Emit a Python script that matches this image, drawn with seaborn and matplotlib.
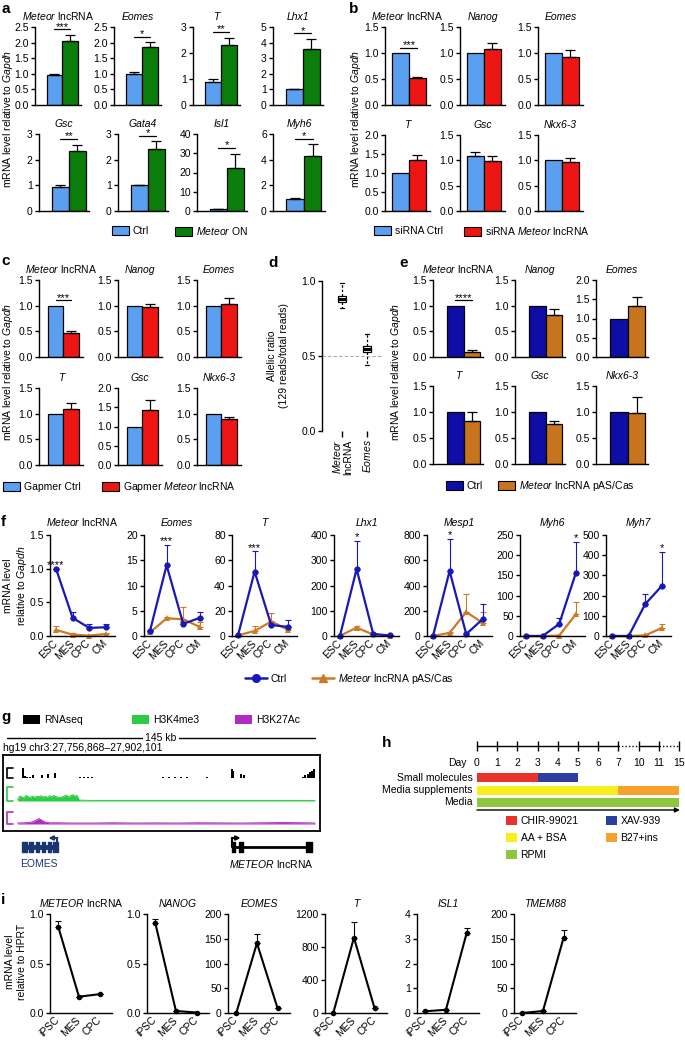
import matplotlib
matplotlib.use("Agg")
import matplotlib.pyplot as plt
from matplotlib.patches import Patch
from matplotlib.lines import Line2D
import numpy as np
import pandas as pd
import seaborn as sns

# ---------------- data ----------------
# a: Ctrl vs Meteor ON
a_genes = ["Meteor lncRNA", "Eomes", "T", "Lhx1", "Gsc", "Gata4", "Isl1", "Myh6"]
a_ctrl = [0.97, 1.00, 0.90, 1.00, 0.93, 1.00, 0.80, 0.97]
a_ctrl_sem = [0.03, 0.07, 0.10, 0.05, 0.07, 0.03, 0.30, 0.07]
a_on = [2.05, 1.85, 2.32, 3.60, 2.32, 2.42, 22.5, 4.30]
a_on_sem = [0.20, 0.17, 0.27, 0.65, 0.27, 0.30, 7.3, 0.90]
a_stars = ["***", "*", "**", "*", "**", "*", "*", "*"]
a_ymax = [2.5, 2.5, 3, 5, 3, 3, 40, 6]
a_ystep = [0.5, 0.5, 1, 1, 1, 1, 10, 2]

# b: siRNA
bce_genes = ["Meteor lncRNA", "Nanog", "Eomes", "T", "Gsc", "Nkx6-3"]
b_ctrl = [1.00, 1.00, 1.00, 1.00, 1.08, 1.00]
b_ctrl_sem = [0, 0, 0, 0, 0.09, 0]
b_kd = [0.52, 1.08, 0.93, 1.35, 0.99, 0.97]
b_kd_sem = [0.02, 0.11, 0.12, 0.13, 0.10, 0.08]
b_stars = ["***", "", "", "", "", ""]
b_ymax = [1.5, 1.5, 1.5, 2.0, 1.5, 1.5]

# c: gapmer
c_ctrl = [1.00, 1.00, 1.00, 1.00, 1.00, 1.00]
c_ctrl_sem = [0, 0, 0, 0, 0, 0]
c_kd = [0.47, 0.97, 1.03, 1.10, 1.42, 0.89]
c_kd_sem = [0.03, 0.06, 0.11, 0.10, 0.28, 0.04]
c_stars = ["***", "", "", "", "", ""]
c_ymax = [1.5, 1.5, 1.5, 1.5, 2.0, 1.5]

# d: allelic ratio
d_meteor = [0.82, 0.85, 0.88, 0.88, 0.91, 0.99]
d_eomes = [0.44, 0.52, 0.545, 0.545, 0.57, 0.65]

# e: pAS/Cas
e_ctrl = [1.00, 1.00, 1.00, 1.00, 1.00, 1.00]
e_ctrl_sem = [0, 0, 0, 0, 0, 0]
e_cas = [0.09, 0.82, 1.32, 0.82, 0.77, 0.99]
e_cas_sem = [0.05, 0.12, 0.23, 0.18, 0.06, 0.30]
e_stars = ["****", "", "", "", "", ""]
e_ymax = [1.5, 1.5, 2.0, 1.5, 1.5, 1.5]

# f: differentiation time course
f_genes = ["Meteor lncRNA", "Eomes", "T", "Lhx1", "Mesp1", "Myh6", "Myh7"]
f_stages = ["ESC", "MES", "CPC", "CM"]
f_ctrl = [[1.0, 0.27, 0.12, 0.13], [1.0, 14.0, 2.4, 3.6], [0.5, 51, 8.7, 7.2],
          [1, 265, 8, 2], [0, 515, 15, 135], [0, 0, 30, 156], [0, 0, 158, 248]]
f_ctrl_sem = [[0, 0.09, 0.06, 0.05], [0.2, 4.1, 0.4, 1.2], [0.3, 16, 1.5, 5.8],
              [0, 112, 2, 1], [0, 255, 5, 118], [0, 0, 15, 77], [0, 0, 50, 168]]
f_cas = [[0.09, 0.02, 0.005, 0.03], [0.7, 3.5, 3.3, 1.8], [0.5, 4, 11.5, 5],
         [1, 33, 6, 1], [0, 25, 190, 103], [0, 0, 1, 54], [0, 0, 3, 40]]
f_cas_sem = [[0.06, 0.02, 0, 0.02], [0.2, 0.3, 2.4, 1.0], [0.3, 4, 7, 2],
             [0, 5, 2, 1], [0, 10, 143, 87], [0, 0, 0, 30], [0, 0, 2, 19]]
f_ymax = [1.5, 20, 80, 400, 800, 250, 500]
f_ystep = [0.5, 5, 20, 100, 200, 50, 100]
f_stars = ["****", "***", "***", "*", "*", "*", "*"]
f_star_stage = ["ESC", "MES", "MES", "MES", "MES", "CM", "CM"]

# g: genome browser tracks (position in kb, signal)
g_rna_kb = [7.4, 8.5, 9.4, 10.8, 12.4, 16.3, 19.4, 22.4, 34.4, 36.3, 38.1, 40.0, 61.1, 65.8,
            73.4, 76.3, 79.1, 81.9, 84.7, 94.0, 105.9, 106.6, 110.2, 111.6,
            139.5, 140.5, 141.5, 142.5, 143.5, 144.5]
g_rna_h = [1.0, 0.2, 0.12, 0.1, 0.35, 0.35, 0.4, 0.55, 0.08, 0.08, 0.08, 0.08, 0.05, 0.05,
           0.08, 0.08, 0.08, 0.08, 0.08, 0.06, 0.9, 0.7, 0.45, 0.3,
           0.15, 0.3, 0.45, 0.6, 0.75, 0.9]
g_k4_kb = [5, 6, 7, 8, 9, 10, 11, 12, 13, 14, 15, 16, 17, 18, 19, 20, 21, 22, 23, 24,
           25, 26, 27, 28, 29, 30, 31, 32, 33, 34, 40, 60, 80, 100, 120, 145]
g_k4_h = [0.1, 0.35, 0.28, 0.22, 0.4, 0.3, 0.26, 0.36, 0.24, 0.33, 0.3, 0.38, 0.27, 0.34,
          0.26, 0.37, 0.3, 0.4, 0.31, 0.27, 0.24, 0.3, 0.36, 0.42, 0.28, 0.38, 0.45, 0.34,
          0.4, 0.06, 0.04, 0.04, 0.04, 0.04, 0.04, 0.04]
g_k27_kb = [5, 8, 10, 12, 13.5, 15, 16.5, 18, 20, 24, 30, 40, 50, 60, 70, 80, 90, 100,
            110, 120, 130, 140, 145]
g_k27_h = [0.08, 0.1, 0.12, 0.18, 0.3, 0.45, 0.3, 0.15, 0.1, 0.1, 0.08, 0.08, 0.1, 0.08,
           0.09, 0.08, 0.1, 0.09, 0.08, 0.1, 0.12, 0.1, 0.08]
g_span_kb = 145
g_eomes_exons = [(6.9, 9.3), (10.5, 12.4), (13.7, 15.2), (16.3, 17.9), (19.2, 20.7), (21.8, 24.2)]
g_meteor_exons = [(105.8, 107.3), (109.4, 111.0), (140.8, 143.5)]

# h: differentiation protocol (days)
h_days = [0, 1, 2, 3, 4, 5, 6, 7, 10, 11, 15]
h_rows = ["Small molecules", "Media supplements", "Media"]
h_blocks = [[("CHIR-99021", 0, 3), ("XAV-939", 3, 5)],
            [("AA + BSA", 0, 7), ("B27+ins", 7, 15)],
            [("RPMI", 0, 15)]]

# i: human iPSC differentiation
i_genes = ["METEOR lncRNA", "NANOG", "EOMES", "T", "ISL1", "TMEM88"]
i_stages = ["iPSC", "MES", "CPC"]
i_vals = [[0.87, 0.165, 0.19], [0.91, 0.02, 0.005], [0, 141, 9.5],
          [0, 913, 57], [0.07, 0.13, 3.22], [0, 4, 152]]
i_sem = [[0.06, 0, 0], [0.035, 0, 0], [0, 18, 0], [0, 186, 0], [0, 0, 0.2], [0, 0, 16]]
i_ymax = [1.0, 1.0, 200, 1200, 4, 200]
i_ystep = [0.5, 0.5, 50, 400, 1, 50]

# ---------------- style ----------------
sns.set_theme(style="ticks", rc={"axes.edgecolor": "black", "text.color": "black",
                                 "xtick.color": "black", "ytick.color": "black",
                                 "axes.labelcolor": "black"})
plt.rcParams["font.family"] = ["Liberation Sans", "DejaVu Sans"]
plt.rcParams["mathtext.fontset"] = "custom"
plt.rcParams["mathtext.rm"] = "Liberation Sans"
plt.rcParams["mathtext.it"] = "Liberation Sans:italic"

LBLUE = "#5a9ff0"
GREEN = "#0a7d0a"
RED = "#ee1515"
NAVY = "#0e0ea6"
BROWN = "#c8741f"
F_BLUE = "#1818b8"
F_ORANGE = "#cc7a26"
G_GREEN = "#2ccc44"
G_PURPLE = "#b02cc0"
G_NAVY = "#1b3570"
H_COLORS = {"CHIR-99021": "#e8322b", "XAV-939": "#2b3f9e", "AA + BSA": "#f7ee1c",
            "B27+ins": "#f6a12b", "RPMI": "#8dc63f"}

W, H = 685, 1040
fig = plt.figure(figsize=(W / 100, H / 100), dpi=100)


def px_ax(l, t, w, h):
    return fig.add_axes([l / W, 1 - (t + h) / H, w / W, h / H])


def fig_text(x, y, s, **kw):
    kw.setdefault("fontsize", 7.5)
    return fig.text(x / W, 1 - y / H, s, **kw)


def letter(x, y, s):
    fig_text(x, y, s, fontsize=11, weight="bold", va="baseline", ha="left")


def ylab(x, y, s):
    fig_text(x, y, s, rotation=90, ha="center", va="center", multialignment="center")


def gene_title(ax, name, pad=5):
    if name.endswith(" lncRNA"):
        ax.set_title("$\\it{%s}$ lncRNA" % name[:-7], fontsize=7.5, pad=pad)
    else:
        ax.set_title(name, fontsize=7.5, pad=pad, style="italic")


def style_y(ax, ymax, step):
    sns.despine(ax=ax)
    for s in ("left", "bottom"):
        ax.spines[s].set_linewidth(1)
        ax.spines[s].set_color("black")
    ax.set_ylim(0, ymax)
    ticks = np.arange(0, ymax + step / 2, step)
    ax.set_yticks(ticks)
    ax.set_yticklabels([f"{t:.1f}" if step < 1 else f"{t:g}" for t in ticks], fontsize=7.5)
    ax.tick_params(axis="y", length=3, width=1, pad=1.5)
    ax.set_xlabel("")
    ax.set_ylabel("")


def bar_panel(ax, vals, sems, colors, ymax, step, star, xlim):
    sns.barplot(x=["ctrl", "test"], y=vals, hue=["ctrl", "test"], palette=colors,
                width=1.0, saturation=1, edgecolor="black", linewidth=0.9,
                errorbar=None, legend=False, ax=ax)
    for i in range(2):
        if sems[i] > 0:
            ax.errorbar(i, vals[i], yerr=[[0], [sems[i]]], fmt="none", ecolor="black",
                        elinewidth=0.9, capsize=3.5, capthick=0.9)
    if star:
        top = max(v + s for v, s in zip(vals, sems))
        yl = top + 0.07 * ymax
        ax.plot([0, 1], [yl, yl], color="black", lw=0.9)
        ax.text(0.5, yl - 0.03 * ymax, star, ha="center", va="bottom", fontsize=8)
    ax.set_xlim(*xlim)
    ax.set_xticks([])
    style_y(ax, ymax, step)


def patch_legend(x, y, color, label, edge="black", hl=1.6, hh=1.05):
    fig.legend(handles=[Patch(facecolor=color, edgecolor=edge, linewidth=0.8)], labels=[label],
               loc="center left", bbox_to_anchor=(x / W, 1 - y / H), frameon=False,
               fontsize=7.5, handlelength=hl, handleheight=hh, handletextpad=0.4,
               borderpad=0, borderaxespad=0)


# ---------------- a ----------------
letter(1, 13, "a")
a_pos = [(35, 27, 46, 78), (114, 27, 47, 78), (193, 27, 47, 78), (273, 27, 50, 78),
         (39, 134, 50, 77), (118, 134, 50, 77), (197, 134, 50, 77), (273, 134, 52, 77)]
for k, pos in enumerate(a_pos):
    ax = px_ax(*pos)
    bar_panel(ax, [a_ctrl[k], a_on[k]], [a_ctrl_sem[k], a_on_sem[k]], [LBLUE, GREEN],
              a_ymax[k], a_ystep[k], a_stars[k], (-1.25, 1.7))
    gene_title(ax, a_genes[k])
ylab(8, 119, "mRNA level relative to $\\it{Gapdh}$")
patch_legend(112, 231, LBLUE, "Ctrl")
patch_legend(175, 231, GREEN, "$\\it{Meteor}$ ON")

# ---------------- b ----------------
letter(349, 13, "b")
b_pos = [(385, 27, 45, 78), (460, 27, 45, 78), (538, 27, 45, 78),
         (385, 135, 45, 76), (460, 135, 45, 76), (538, 135, 45, 76)]
for k, pos in enumerate(b_pos):
    ax = px_ax(*pos)
    bar_panel(ax, [b_ctrl[k], b_kd[k]], [b_ctrl_sem[k], b_kd_sem[k]], [LBLUE, RED],
              b_ymax[k], 0.5, b_stars[k], (-0.91, 1.74))
    gene_title(ax, bce_genes[k])
ylab(356, 119, "mRNA level relative to $\\it{Gapdh}$")
patch_legend(374, 231, LBLUE, "siRNA Ctrl")
patch_legend(464, 231, RED, "siRNA $\\it{Meteor}$ lncRNA")

# ---------------- c ----------------
letter(1, 265, "c")
c_pos = [(39, 280, 44, 77), (118, 280, 44, 77), (197, 280, 44, 77),
         (39, 388, 44, 77), (118, 388, 44, 77), (197, 388, 44, 77)]
for k, pos in enumerate(c_pos):
    ax = px_ax(*pos)
    bar_panel(ax, [c_ctrl[k], c_kd[k]], [c_ctrl_sem[k], c_kd_sem[k]], [LBLUE, RED],
              c_ymax[k], 0.5, c_stars[k], (-1.08, 1.76))
    gene_title(ax, bce_genes[k])
ylab(8, 372, "mRNA level relative to $\\it{Gapdh}$")
patch_legend(3, 487, LBLUE, "Gapmer Ctrl")
patch_legend(102, 487, RED, "Gapmer $\\it{Meteor}$ lncRNA")

# ---------------- d ----------------
letter(268, 267, "d")
ax = px_ax(322, 281, 60, 150)
df_d = pd.DataFrame({"gene": ["Meteor lncRNA"] * len(d_meteor) + ["Eomes"] * len(d_eomes),
                     "ratio": d_meteor + d_eomes})
ax.axhline(0.5, color="#aaaaaa", ls=(0, (3, 2)), lw=0.8, zorder=0)
sns.boxplot(data=df_d, x="gene", y="ratio", whis=(0, 100), width=0.3, color="white",
            linecolor="black", linewidth=0.9, whiskerprops={"linestyle": (0, (2, 1.5))},
            medianprops={"linewidth": 2.2}, ax=ax)
ax.set_xlim(-0.8, 1.6)
style_y(ax, 1.0, 0.5)
ax.spines["bottom"].set_visible(False)
ax.set_xticks([0, 1])
ax.set_xticklabels(["$\\it{Meteor}$\nlncRNA", "$\\it{Eomes}$"], rotation=90,
                   fontsize=7.5, linespacing=1.0, multialignment="right")
ax.tick_params(axis="x", length=4, width=1, pad=2)
ylab(278, 356, "Allelic ratio\n(129 reads/total reads)")

# ---------------- e ----------------
letter(399, 267, "e")
e_pos = [(433, 280, 50, 77), (515, 280, 50, 77), (596, 280, 52, 77),
         (433, 386, 50, 78), (515, 386, 50, 78), (596, 386, 52, 78)]
for k, pos in enumerate(e_pos):
    ax = px_ax(*pos)
    bar_panel(ax, [e_ctrl[k], e_cas[k]], [e_ctrl_sem[k], e_cas_sem[k]], [NAVY, BROWN],
              e_ymax[k], 0.5, e_stars[k], (-1.3, 1.65))
    gene_title(ax, bce_genes[k])
ylab(396, 372, "mRNA level relative to $\\it{Gapdh}$")
patch_legend(446, 486, NAVY, "Ctrl")
patch_legend(498, 486, BROWN, "$\\it{Meteor}$ lncRNA pAS/Cas")

# ---------------- f ----------------
letter(1, 526, "f")
f_left = [50, 144, 232, 334, 427, 520, 606]
for k, left in enumerate(f_left):
    ax = px_ax(left, 535, 65, 101)
    df = pd.DataFrame({"stage": f_stages * 2, "val": f_ctrl[k] + f_cas[k],
                       "group": ["Ctrl"] * 4 + ["pAS"] * 4})
    for vals, sems, col in ((f_cas[k], f_cas_sem[k], F_ORANGE), (f_ctrl[k], f_ctrl_sem[k], F_BLUE)):
        ax.errorbar(f_stages, vals, yerr=[[0] * 4, sems], fmt="none", ecolor=col,
                    elinewidth=0.8, capsize=2.5, capthick=0.8)
    sns.lineplot(data=df, x="stage", y="val", hue="group", style="group",
                 hue_order=["pAS", "Ctrl"], style_order=["pAS", "Ctrl"],
                 markers={"Ctrl": "o", "pAS": "^"}, dashes=False,
                 palette={"Ctrl": F_BLUE, "pAS": F_ORANGE}, linewidth=1.6, markersize=4.5,
                 markeredgewidth=0, legend=False, errorbar=None, ax=ax)
    for ln in ax.lines:
        ln.set_clip_on(False)
    si = f_stages.index(f_star_stage[k])
    top = max(f_ctrl[k][si] + f_ctrl_sem[k][si], f_cas[k][si] + f_cas_sem[k][si])
    ax.text(si, top - 0.015 * f_ymax[k], f_stars[k], ha="center", va="bottom", fontsize=8)
    ax.set_xlim(-0.36, 3.55)
    style_y(ax, f_ymax[k], f_ystep[k])
    ax.set_xticks(range(len(f_stages)))
    ax.set_xticklabels(f_stages, rotation=45, ha="right", va="center",
                       rotation_mode="anchor", fontsize=7.5)
    ax.tick_params(axis="x", length=0, pad=4)
    gene_title(ax, f_genes[k], pad=6.5)
ylab(16, 586, "mRNA level\nrelative to $\\it{Gapdh}$")
for x, col, mk, lab in ((245, F_BLUE, "o", "Ctrl"),
                        (312, F_ORANGE, "^", "$\\it{Meteor}$ lncRNA pAS/Cas")):
    fig.legend(handles=[Line2D([], [], color=col, marker=mk, lw=1.8, markersize=5.5)],
               labels=[lab], loc="center left", bbox_to_anchor=(x / W, 1 - 679 / H),
               frameon=False, fontsize=7.5, handlelength=2.1, handletextpad=0.35,
               borderpad=0, borderaxespad=0)

# ---------------- g ----------------
letter(1, 721, "g")
patch_legend(23, 720, "black", "RNAseq", edge="none")
patch_legend(132, 720, G_GREEN, "H3K4me3", edge="none")
patch_legend(235, 720, G_PURPLE, "H3K27Ac", edge="none")
g_xlim = (-1.88, 147.36)
ann = px_ax(3, 728, 317, 142)
ann.set_xlim(*g_xlim)
ann.set_ylim(870, 728)
ann.axis("off")
ann.plot([0, g_span_kb], [738, 738], color="black", lw=1)
ann.text(g_span_kb / 2, 738, f"{g_span_kb} kb", ha="center", va="center", fontsize=7.5,
         bbox=dict(facecolor="white", edgecolor="none", pad=2))
fig_text(3, 748, "hg19 chr3:27,756,868\u201327,902,101", va="center")

frame = px_ax(3, 755, 317, 76)
frame.set_xticks([])
frame.set_yticks([])
for s in frame.spines.values():
    s.set_visible(True)
    s.set_linewidth(1.3)
    s.set_color("black")
frame.set_facecolor("white")

tracks = [((3, 768, 317, 10), g_rna_kb, g_rna_h, "black"),
          ((3, 787, 317, 14), g_k4_kb, g_k4_h, G_GREEN),
          ((3, 812, 317, 12), g_k27_kb, g_k27_h, G_PURPLE)]
for k, (pos, xs, ys, col) in enumerate(tracks):
    tax = px_ax(*pos)
    tax.set_xlim(*g_xlim)
    tax.set_ylim(0, 1)
    tax.axis("off")
    if k == 0:
        tax.bar(xs, ys, width=0.9, color=col, linewidth=0)
    else:
        tax.fill_between(xs, 0, ys, color=col, lw=0)
        tax.plot(xs, ys, color=col, lw=0.7)
    tax.plot([2.8, 0, 0, 2.8], [1, 1, 0, 0], color=col, lw=1.2, clip_on=False)

for exons, col, lw_intron, tss_dir, name in ((g_eomes_exons, G_NAVY, 3.5, -1, "EOMES"),
                                             (g_meteor_exons, "black", 2.0, 1, "$\\it{METEOR}$ lncRNA")):
    start, end = exons[0][0], exons[-1][1]
    ann.plot([start, end], [847, 847], color=col, lw=lw_intron, solid_capstyle="butt")
    ann.broken_barh([(s, e - s) for s, e in exons], (842, 10), color=col)
    tss = end - 0.5 if tss_dir < 0 else start
    ann.plot([tss, tss], [847, 838], color=col, lw=1.5)
    ann.annotate("", xy=(tss + tss_dir * 4.2, 838), xytext=(tss, 838),
                 arrowprops=dict(arrowstyle="-|>", color=col, lw=1.5, mutation_scale=6,
                                 shrinkA=0, shrinkB=0))
    ann.text(start - 0.5 if tss_dir < 0 else start - 1.3, 864, name, color=col,
             fontsize=7.5, va="center", ha="left")

# ---------------- h ----------------
letter(382, 747, "h")
hax = px_ax(400, 738, 285, 130)
hax.set_xlim(-3.81, 10.30)
hax.set_ylim(868, 738)
hax.axis("off")
day_idx = {d: i for i, d in enumerate(h_days)}
for i in range(len(h_days) - 1):
    ls = "-" if h_days[i + 1] - h_days[i] == 1 else (0, (1, 1.5))
    hax.plot([i, i + 1], [746, 746], color="black", lw=1, ls=ls)
hax.vlines(range(len(h_days)), 741, 751, color="black", lw=1)
for i, d in enumerate(h_days):
    hax.text(i, 763, str(d), ha="center", va="center", fontsize=7.5)
hax.text(-0.5, 763, "Day", ha="right", va="center", fontsize=7.5)
for row_y, row_name, blocks in zip((777.5, 790, 802), h_rows, h_blocks):
    hax.text(-0.2, row_y, row_name, ha="right", va="center", fontsize=7.5)
    for lab, d0, d1 in blocks:
        hax.barh(row_y, day_idx[d1] - day_idx[d0], left=day_idx[d0], height=9,
                 color=H_COLORS[lab], linewidth=0)
hax.annotate("", xy=(len(h_days) - 1 + 0.05, 810), xytext=(0, 810),
             arrowprops=dict(arrowstyle="-|>", color="black", lw=1, mutation_scale=7,
                             shrinkA=0, shrinkB=0))
h_leg = ["CHIR-99021", "AA + BSA", "RPMI", "XAV-939", "B27+ins"]
fig.legend(handles=[Patch(facecolor=H_COLORS[l], edgecolor="none") for l in h_leg],
           labels=h_leg, ncol=2, loc="upper left", bbox_to_anchor=(506 / W, 1 - 816 / H),
           frameon=False, fontsize=7.5, handlelength=1.1, handleheight=1.0,
           handletextpad=0.3, columnspacing=2.6, labelspacing=0.65,
           borderpad=0, borderaxespad=0)

# ---------------- i ----------------
letter(1, 904, "i")
i_left = [50, 147, 228, 325, 417, 514]
for k, left in enumerate(i_left):
    ax = px_ax(left, 914, 62, 99)
    ax.errorbar(i_stages, i_vals[k], yerr=[[0] * 3, i_sem[k]], fmt="none", ecolor="black",
                elinewidth=0.8, capsize=2.5, capthick=0.8)
    sns.lineplot(x=i_stages, y=i_vals[k], color="black", marker="o", markersize=4,
                 markeredgewidth=0, linewidth=1.5, ax=ax)
    for ln in ax.lines:
        ln.set_clip_on(False)
    ax.set_xlim(-0.4, 2.6)
    style_y(ax, i_ymax[k], i_ystep[k])
    ax.set_xticks(range(len(i_stages)))
    ax.set_xticklabels(i_stages, rotation=45, ha="right", va="center",
                       rotation_mode="anchor", fontsize=7.5)
    ax.tick_params(axis="x", length=0, pad=4)
    gene_title(ax, i_genes[k])
ylab(16, 962, "mRNA level\nrelative to HPRT")

fig.savefig("out.png", dpi=100)
